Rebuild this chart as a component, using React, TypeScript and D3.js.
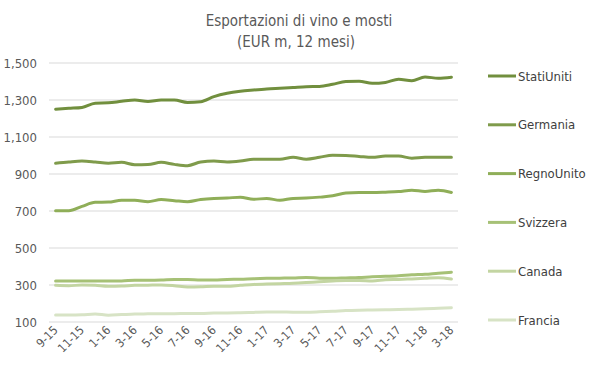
import React from "react";
import * as d3 from "d3";

const categories = ["9-15","10-15","11-15","12-15","1-16","2-16","3-16","4-16","5-16","6-16","7-16","8-16","9-16","10-16","11-16","12-16","1-17","2-17","3-17","4-17","5-17","6-17","7-17","8-17","9-17","10-17","11-17","12-17","1-18","2-18","3-18"];
const tickLabels = ["9-15","11-15","1-16","3-16","5-16","7-16","9-16","11-16","1-17","3-17","5-17","7-17","9-17","11-17","1-18","3-18"];
const yTicks = [100, 300, 500, 700, 900, 1100, 1300, 1500];

const statiUniti = [1250,1255,1260,1283,1285,1293,1300,1292,1300,1300,1287,1291,1318,1336,1347,1354,1360,1364,1368,1372,1373,1385,1400,1402,1390,1395,1412,1404,1425,1417,1423];
const germania = [958,965,970,965,958,963,950,951,963,952,945,965,970,965,970,980,980,980,990,980,990,1002,1000,995,990,997,997,985,990,990,990];
const regnoUnito = [702,702,725,747,748,758,758,750,762,756,750,762,768,770,775,763,768,758,768,770,775,782,797,800,800,802,805,812,806,812,800];
const svizzera = [322,322,322,322,322,322,326,326,327,330,330,327,327,330,331,334,336,337,338,341,337,336,338,340,345,347,350,355,358,364,369];
const canada = [298,296,300,298,293,294,298,299,300,296,289,290,293,293,298,303,305,307,309,313,318,322,325,325,322,328,330,333,336,339,332];
const francia = [138,138,139,143,137,140,143,144,145,145,146,146,148,149,150,152,154,154,153,153,155,158,162,164,165,166,167,169,171,174,177];

const seriesNames = ["StatiUniti","Germania","RegnoUnito","Svizzera","Canada","Francia"];
const seriesValues = [statiUniti, germania, regnoUnito, svizzera, canada, francia];
const seriesColors = ["#718f3e","#7f9b4b","#8fae58","#a6c176","#c3d5a2","#d7e3c5"];

const FONT = "'Liberation Sans Narrow', 'DejaVu Sans Condensed', 'Liberation Sans', sans-serif";

export default function App() {
  const W = 599, H = 378;
  const left = 49, right = 458, top = 63, bottom = 322;
  const x = d3.scaleBand<string>().domain(categories).range([left, right]);
  const y = d3.scaleLinear().domain([100, 1500]).range([bottom, top]);
  const cx = (c: string) => (x(c) as number) + x.bandwidth() / 2;
  const line = d3.line<number>()
    .x((_, i) => cx(categories[i]))
    .y((v) => y(v))
    .curve(d3.curveMonotoneX);

  const legendY0 = 76, legendStep = 48.8;

  return (
    <svg width={W} height={H} style={{ position: "absolute", left: 0, top: 0, background: "#fff" }} fontFamily={FONT}>
      <rect width={W} height={H} fill="#fff" />
      <text x={299} y={26} textAnchor="middle" fontSize={15} fill="#595959">Esportazioni di vino e mosti</text>
      <text x={296} y={47} textAnchor="middle" fontSize={15} fill="#595959">(EUR m, 12 mesi)</text>
      {yTicks.map((t) => (
        <g key={t}>
          <line x1={left} x2={right} y1={y(t)} y2={y(t)} stroke="#d9d9d9" strokeWidth={1} />
          <text x={37} y={y(t) + 4.5} textAnchor="end" fontSize={13} fill="#595959">{d3.format(",")(t)}</text>
        </g>
      ))}
      {tickLabels.map((c) => (
        <text key={c} transform={`translate(${cx(c) + 3},${bottom + 9}) rotate(-45)`} textAnchor="end" fontSize={12} fill="#595959">{c}</text>
      ))}
      {seriesValues.map((vals, i) => (
        <path key={seriesNames[i]} d={line(vals) || ""} fill="none" stroke={seriesColors[i]} strokeWidth={3} strokeLinejoin="round" strokeLinecap="round" />
      ))}
      {seriesNames.map((n, i) => (
        <g key={n}>
          <line x1={488} x2={516} y1={legendY0 + i * legendStep} y2={legendY0 + i * legendStep} stroke={seriesColors[i]} strokeWidth={3} />
          <text x={518} y={legendY0 + i * legendStep + 4.5} fontSize={13} fill="#404040">{n}</text>
        </g>
      ))}
    </svg>
  );
}
